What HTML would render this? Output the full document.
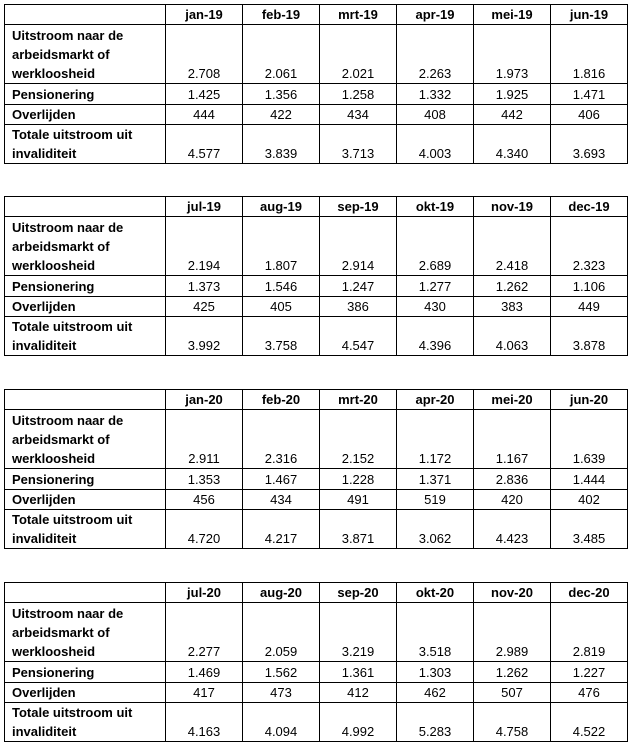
<!DOCTYPE html>
<html><head><style>
body{margin:0;background:#fff;width:633px;height:744px;position:relative;font-family:"Liberation Sans",Arial,sans-serif;font-size:13px;color:#000}
table{position:absolute;left:4px;border-collapse:collapse;table-layout:fixed;width:624px}
td{border:1px solid #000;padding:0 7px;line-height:19px;vertical-align:bottom;text-align:center;overflow:hidden;white-space:nowrap}
td:first-child{text-align:left;font-weight:bold;width:146px}
tr.h td{font-weight:bold;height:18px}
tr.r1 td{height:58px}
tr.r2 td{height:20px}
tr.r3 td{height:19px}
tr.r4 td{height:37px}
</style></head><body>
<table style="top:4px"><colgroup><col style="width:161px"><col span="6" style="width:77px"></colgroup>
<tr class="h"><td></td><td>jan-19</td><td>feb-19</td><td>mrt-19</td><td>apr-19</td><td>mei-19</td><td>jun-19</td></tr>
<tr class="r1"><td>Uitstroom naar de<br>arbeidsmarkt of<br>werkloosheid</td><td>2.708</td><td>2.061</td><td>2.021</td><td>2.263</td><td>1.973</td><td>1.816</td></tr>
<tr class="r2"><td>Pensionering</td><td>1.425</td><td>1.356</td><td>1.258</td><td>1.332</td><td>1.925</td><td>1.471</td></tr>
<tr class="r3"><td>Overlijden</td><td>444</td><td>422</td><td>434</td><td>408</td><td>442</td><td>406</td></tr>
<tr class="r4"><td>Totale uitstroom uit<br>invaliditeit</td><td>4.577</td><td>3.839</td><td>3.713</td><td>4.003</td><td>4.340</td><td>3.693</td></tr>
</table>
<table style="top:196px"><colgroup><col style="width:161px"><col span="6" style="width:77px"></colgroup>
<tr class="h"><td></td><td>jul-19</td><td>aug-19</td><td>sep-19</td><td>okt-19</td><td>nov-19</td><td>dec-19</td></tr>
<tr class="r1"><td>Uitstroom naar de<br>arbeidsmarkt of<br>werkloosheid</td><td>2.194</td><td>1.807</td><td>2.914</td><td>2.689</td><td>2.418</td><td>2.323</td></tr>
<tr class="r2"><td>Pensionering</td><td>1.373</td><td>1.546</td><td>1.247</td><td>1.277</td><td>1.262</td><td>1.106</td></tr>
<tr class="r3"><td>Overlijden</td><td>425</td><td>405</td><td>386</td><td>430</td><td>383</td><td>449</td></tr>
<tr class="r4"><td>Totale uitstroom uit<br>invaliditeit</td><td>3.992</td><td>3.758</td><td>4.547</td><td>4.396</td><td>4.063</td><td>3.878</td></tr>
</table>
<table style="top:389px"><colgroup><col style="width:161px"><col span="6" style="width:77px"></colgroup>
<tr class="h"><td></td><td>jan-20</td><td>feb-20</td><td>mrt-20</td><td>apr-20</td><td>mei-20</td><td>jun-20</td></tr>
<tr class="r1"><td>Uitstroom naar de<br>arbeidsmarkt of<br>werkloosheid</td><td>2.911</td><td>2.316</td><td>2.152</td><td>1.172</td><td>1.167</td><td>1.639</td></tr>
<tr class="r2"><td>Pensionering</td><td>1.353</td><td>1.467</td><td>1.228</td><td>1.371</td><td>2.836</td><td>1.444</td></tr>
<tr class="r3"><td>Overlijden</td><td>456</td><td>434</td><td>491</td><td>519</td><td>420</td><td>402</td></tr>
<tr class="r4"><td>Totale uitstroom uit<br>invaliditeit</td><td>4.720</td><td>4.217</td><td>3.871</td><td>3.062</td><td>4.423</td><td>3.485</td></tr>
</table>
<table style="top:582px"><colgroup><col style="width:161px"><col span="6" style="width:77px"></colgroup>
<tr class="h"><td></td><td>jul-20</td><td>aug-20</td><td>sep-20</td><td>okt-20</td><td>nov-20</td><td>dec-20</td></tr>
<tr class="r1"><td>Uitstroom naar de<br>arbeidsmarkt of<br>werkloosheid</td><td>2.277</td><td>2.059</td><td>3.219</td><td>3.518</td><td>2.989</td><td>2.819</td></tr>
<tr class="r2"><td>Pensionering</td><td>1.469</td><td>1.562</td><td>1.361</td><td>1.303</td><td>1.262</td><td>1.227</td></tr>
<tr class="r3"><td>Overlijden</td><td>417</td><td>473</td><td>412</td><td>462</td><td>507</td><td>476</td></tr>
<tr class="r4"><td>Totale uitstroom uit<br>invaliditeit</td><td>4.163</td><td>4.094</td><td>4.992</td><td>5.283</td><td>4.758</td><td>4.522</td></tr>
</table>
</body></html>
